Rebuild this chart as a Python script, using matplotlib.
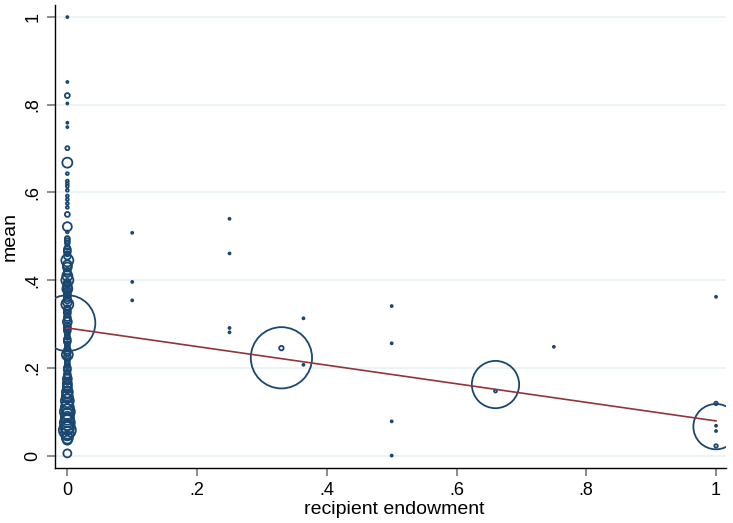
import matplotlib.pyplot as plt
import numpy as np

plt.rcParams['font.family'] = ['Liberation Sans', 'DejaVu Sans']

# weighted group means: x position, mean, weight (number of obs, scaled)
x0_mean = [1.0, 0.852, 0.821, 0.803, 0.759, 0.749, 0.701, 0.668, 0.643, 0.626,
           0.620, 0.614, 0.605, 0.592, 0.584, 0.575, 0.566, 0.550, 0.522, 0.510,
           0.495, 0.485, 0.475, 0.465, 0.455, 0.445, 0.435, 0.420, 0.410, 0.400,
           0.390, 0.380, 0.370, 0.360, 0.350, 0.345, 0.335, 0.325, 0.315, 0.305,
           0.302, 0.295, 0.285, 0.275, 0.265, 0.255, 0.245, 0.235, 0.230, 0.220,
           0.205, 0.195, 0.185, 0.175, 0.165, 0.155, 0.145, 0.135, 0.125, 0.118,
           0.110, 0.100, 0.092, 0.085, 0.075, 0.065, 0.058, 0.050, 0.040, 0.035,
           0.005,
           0.490, 0.470, 0.460, 0.430, 0.415, 0.395, 0.385, 0.375, 0.365, 0.355,
           0.330, 0.320, 0.310, 0.290, 0.280, 0.270, 0.260, 0.250, 0.240, 0.225,
           0.215, 0.210, 0.200, 0.190, 0.180, 0.170, 0.160, 0.150, 0.140, 0.130,
           0.105, 0.095, 0.080, 0.070, 0.062, 0.045]
x0_weight = [1, 1, 6, 1, 1, 1, 4, 25, 2, 2,
             2, 2, 2, 2, 2, 2, 2, 6, 20, 2,
             6, 6, 6, 12, 12, 36, 20, 12, 25, 36,
             12, 25, 12, 12, 20, 36, 12, 12, 12, 20,
             784, 12, 12, 6, 12, 6, 6, 12, 30, 6,
             6, 12, 12, 20, 20, 20, 30, 30, 42, 30,
             42, 56, 42, 42, 56, 42, 72, 42, 30, 20,
             16,
             6, 12, 6, 20, 12, 12, 20, 12, 12, 12,
             12, 6, 12, 12, 6, 6, 12, 6, 12, 12,
             6, 6, 12, 6, 12, 12, 20, 12, 20, 20,
             30, 30, 42, 30, 42, 20]

other_x = [0.10, 0.10, 0.10, 0.25, 0.25, 0.25, 0.25, 0.33, 0.33, 0.364, 0.364,
           0.50, 0.50, 0.50, 0.50, 0.66, 0.66, 0.75,
           1.0, 1.0, 1.0, 1.0, 1.0, 1.0]
other_mean = [0.508, 0.396, 0.354, 0.540, 0.461, 0.291, 0.281, 0.245, 0.223, 0.313, 0.207,
              0.341, 0.256, 0.078, 0.0, 0.147, 0.162, 0.248,
              0.362, 0.119, 0.068, 0.056, 0.022, 0.066]
other_weight = [1, 1, 1, 1, 1, 1, 1, 5, 940, 1, 1,
                1, 1, 1, 1, 2, 560, 1,
                1, 3, 1, 1, 3, 515]

# fitted values at the ends of the x range
fit_x = [0, 1]
fit_y = [0.291, 0.079]

xticks = [0, 0.2, 0.4, 0.6, 0.8, 1]
xtick_labels = ['0', '.2', '.4', '.6', '.8', '1']
yticks = [0, 0.2, 0.4, 0.6, 0.8, 1]
ytick_labels = ['0', '.2', '.4', '.6', '.8', '1']

navy = '#1a476f'
maroon = '#90353b'

fig = plt.figure(figsize=(7.33, 5.23), dpi=100)
ax = fig.add_axes([0.0755, 0.1046, 0.915, 0.8854])

xs = [0] * len(x0_mean) + other_x
ys = x0_mean + other_mean
ws = np.array(x0_weight + other_weight, dtype=float)
ax.scatter(xs, ys, s=2.07 * ws, facecolors='none', edgecolors=navy,
           linewidths=1.3, zorder=3)
ax.plot(fit_x, fit_y, color=maroon, lw=1.2, zorder=4)

ax.set_xlim(-0.0185, 1.0154)
ax.set_ylim(-0.029, 1.027)
ax.set_xticks(xticks)
ax.set_xticklabels(xtick_labels)
ax.set_yticks(yticks)
ax.set_yticklabels(ytick_labels, rotation=90, va='center')
for y in yticks:
    ax.axhline(y, color='#eaf2f3', lw=1.3, zorder=1)

for side in ['top', 'right']:
    ax.spines[side].set_visible(False)
for side in ['left', 'bottom']:
    ax.spines[side].set_color('black')
    ax.spines[side].set_linewidth(1.0)
ax.tick_params(axis='both', length=5.8, width=1.2, color='#777777',
               labelsize=13, pad=4)

# axis titles placed directly so they stay inside the canvas
fig.text(0.5375, 1 - 514 / 523, 'recipient endowment', fontsize=14,
         ha='center', va='baseline')
ax.set_ylabel('mean', fontsize=14, labelpad=4)

fig.savefig('out.png', dpi=100)
